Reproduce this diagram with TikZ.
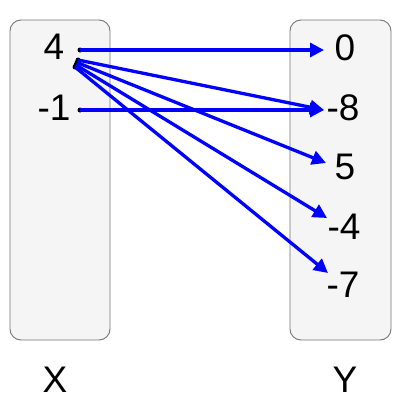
\documentclass[tikz,border=0pt]{standalone}
\usepackage{fontspec}
\setmainfont{Liberation Sans}
\usetikzlibrary{arrows.meta}
\begin{document}
\begin{tikzpicture}[x=1pt,y=-1pt,
  setbox/.style={draw=black!55,fill=black!4,line width=0.9pt,rounded corners=11pt},
  lbl/.style={font=\fontsize{37}{37}\selectfont,inner sep=0pt},
  edge/.style={draw=blue,line width=3.3pt,-{Triangle[length=14pt,width=14pt]}},
  dotc/.style={circle,fill=black,inner sep=0pt,minimum size=5pt}]
\useasboundingbox (0,0) rectangle (400,400);
\draw[setbox] (10,20) rectangle (110,340);
\draw[setbox] (290,20) rectangle (391,340);
\node[lbl] (x4) at (54,47) {4};
\node[lbl] (xm1) at (54,108) {-1};
\node[lbl] (y0) at (345,48) {0};
\node[lbl] (ym8) at (343,108) {-8};
\node[lbl] (y5) at (345,167) {5};
\node[lbl] (ym4) at (344,227) {-4};
\node[lbl] (ym7) at (343,285) {-7};
\node[lbl] (lx) at (55,380) {X};
\node[lbl] (ly) at (345,380) {Y};
\node[dotc] (s0) at (80,50) {};
\node[dotc] (s1) at (80,110) {};
\node[dotc] (s2) at (78,60) {};
\node[dotc] (s3) at (77,62.5) {};
\node[dotc] (s4) at (76,65) {};
\node[dotc] (s5) at (75,67) {};
\coordinate (t0) at (324,50);
\coordinate (t1) at (324,110);
\coordinate (t2) at (326,163);
\coordinate (t3) at (327,218);
\coordinate (t4) at (328,273);
\draw[edge] (s0.center) -- (t0);
\draw[edge] (s1.center) -- (t1);
\draw[edge] (s2.center) -- (t1);
\draw[edge] (s3.center) -- (t2);
\draw[edge] (s4.center) -- (t3);
\draw[edge] (s5.center) -- (t4);
\end{tikzpicture}
\end{document}
